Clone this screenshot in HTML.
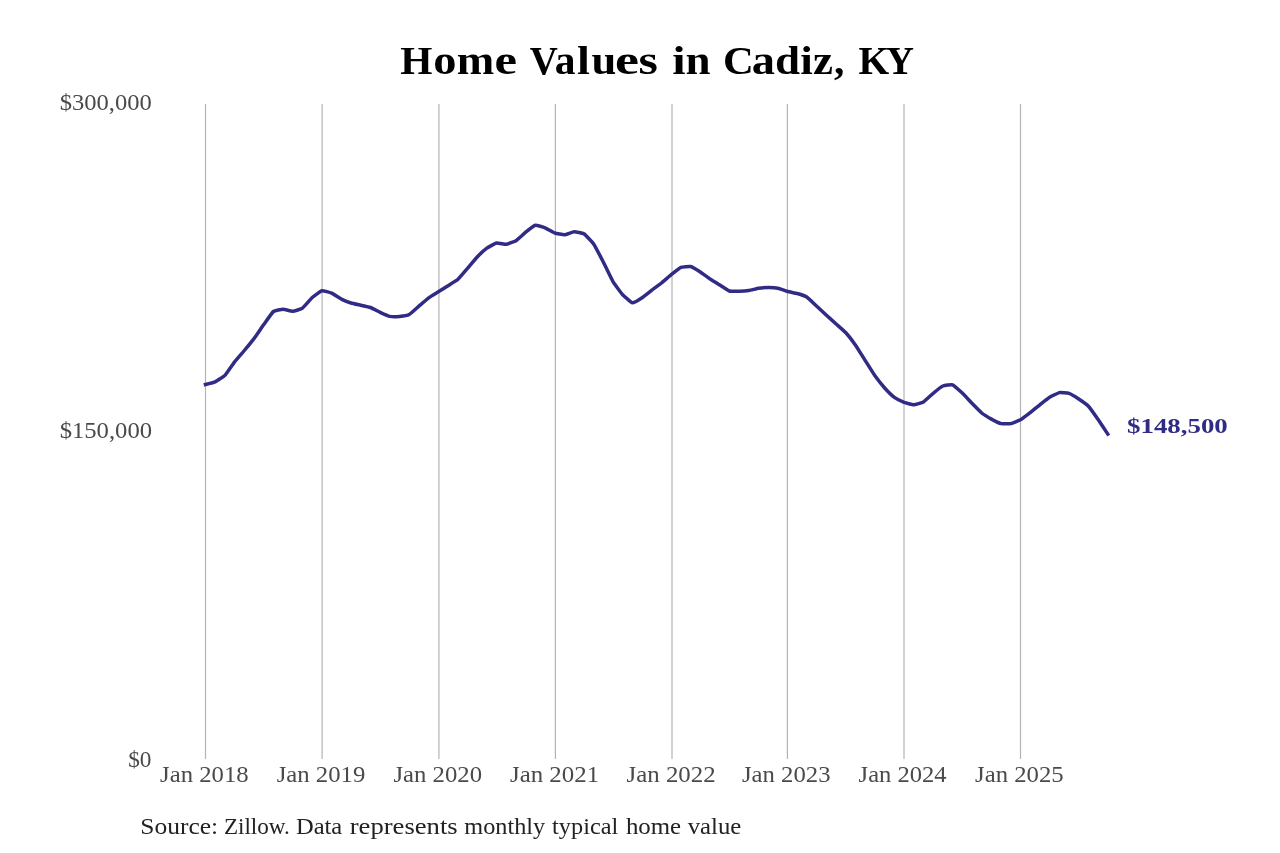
<!DOCTYPE html>
<html><head><meta charset="utf-8"><style>
html,body{margin:0;padding:0;background:#fff;}
body{width:1280px;height:853px;overflow:hidden;}
svg{display:block;will-change:transform;}
text{font-family:"Liberation Serif",serif;}
</style></head><body>
<svg width="1280" height="853" viewBox="0 0 1280 853">
<rect width="1280" height="853" fill="#fff"/>
<g stroke="#b4b4b4" stroke-width="1.2">
<line x1="205.5" y1="104" x2="205.5" y2="759"/>
<line x1="322.1" y1="104" x2="322.1" y2="759"/>
<line x1="438.9" y1="104" x2="438.9" y2="759"/>
<line x1="555.4" y1="104" x2="555.4" y2="759"/>
<line x1="672.0" y1="104" x2="672.0" y2="759"/>
<line x1="787.4" y1="104" x2="787.4" y2="759"/>
<line x1="904.0" y1="104" x2="904.0" y2="759"/>
<line x1="1020.5" y1="104" x2="1020.5" y2="759"/>
</g>
<text transform="translate(400.35 73.60) scale(1.0544 1)" font-size="39.20" font-weight="bold" fill="#000">H</text>
<text transform="translate(433.15 73.60) scale(1.1837 1)" font-size="39.20" font-weight="bold" fill="#000">o</text>
<text transform="translate(456.70 73.60) scale(1.1491 1)" font-size="39.20" font-weight="bold" fill="#000">m</text>
<text transform="translate(494.42 73.60) scale(1.2931 1)" font-size="39.20" font-weight="bold" fill="#000">e</text>
<text transform="translate(529.70 73.60) scale(0.9902 1)" font-size="39.20" font-weight="bold" fill="#000">V</text>
<text transform="translate(554.80 73.60) scale(1.0612 1)" font-size="39.20" font-weight="bold" fill="#000">a</text>
<text transform="translate(576.98 73.60) scale(1.1837 1)" font-size="39.20" font-weight="bold" fill="#000">l</text>
<text transform="translate(591.40 73.60) scale(1.1381 1)" font-size="39.20" font-weight="bold" fill="#000">u</text>
<text transform="translate(615.01 73.60) scale(1.3780 1)" font-size="39.20" font-weight="bold" fill="#000">e</text>
<text transform="translate(638.62 73.60) scale(1.2706 1)" font-size="39.20" font-weight="bold" fill="#000">s</text>
<text transform="translate(672.15 73.60) scale(1.2245 1)" font-size="39.20" font-weight="bold" fill="#000">i</text>
<text transform="translate(685.60 73.60) scale(1.1477 1)" font-size="39.20" font-weight="bold" fill="#000">n</text>
<text transform="translate(723.00 73.60) scale(1.0884 1)" font-size="39.20" font-weight="bold" fill="#000">C</text>
<text transform="translate(751.65 73.60) scale(1.1864 1)" font-size="39.20" font-weight="bold" fill="#000">a</text>
<text transform="translate(774.89 73.60) scale(1.1478 1)" font-size="39.20" font-weight="bold" fill="#000">d</text>
<text transform="translate(800.19 73.60) scale(1.1531 1)" font-size="39.20" font-weight="bold" fill="#000">i</text>
<text transform="translate(812.90 73.60) scale(1.1491 1)" font-size="39.20" font-weight="bold" fill="#000">z</text>
<text transform="translate(834.00 73.60) scale(1.0612 1)" font-size="39.20" font-weight="bold" fill="#000">,</text>
<text transform="translate(858.58 73.60) scale(1.0062 1)" font-size="39.20" font-weight="bold" fill="#000">K</text>
<text transform="translate(885.90 73.60) scale(0.9870 1)" font-size="39.20" font-weight="bold" fill="#000">Y</text>
<text transform="translate(59.74 110.40) scale(1.0639 1)" font-size="23.10" fill="#4a4a4a">$300,000</text>
<text transform="translate(59.64 437.50) scale(1.0675 1)" font-size="23.10" fill="#4a4a4a">$150,000</text>
<text transform="translate(128.19 767.40) scale(1.0070 1)" font-size="23.10" fill="#4a4a4a">$0</text>
<text transform="translate(160.07 781.70) scale(1.0709 1)" font-size="23.10" fill="#4a4a4a">Jan 2018</text>
<text transform="translate(276.67 781.70) scale(1.0709 1)" font-size="23.10" fill="#4a4a4a">Jan 2019</text>
<text transform="translate(393.47 781.70) scale(1.0709 1)" font-size="23.10" fill="#4a4a4a">Jan 2020</text>
<text transform="translate(509.97 781.70) scale(1.0775 1)" font-size="23.10" fill="#4a4a4a">Jan 2021</text>
<text transform="translate(626.57 781.70) scale(1.0762 1)" font-size="23.10" fill="#4a4a4a">Jan 2022</text>
<text transform="translate(741.97 781.70) scale(1.0709 1)" font-size="23.10" fill="#4a4a4a">Jan 2023</text>
<text transform="translate(858.57 781.70) scale(1.0644 1)" font-size="23.10" fill="#4a4a4a">Jan 2024</text>
<text transform="translate(975.07 781.70) scale(1.0709 1)" font-size="23.10" fill="#4a4a4a">Jan 2025</text>
<text transform="translate(1127.04 432.70) scale(1.2271 1)" font-size="21.90" font-weight="bold" fill="#302b85">$148,500</text>
<text transform="translate(140.23 833.90) scale(1.1141 1)" font-size="22.90" fill="#222">Source:</text>
<text transform="translate(223.89 833.90) scale(1.0099 1)" font-size="22.90" fill="#222">Zillow.</text>
<text transform="translate(295.96 833.90) scale(1.0717 1)" font-size="22.90" fill="#222">Data</text>
<text transform="translate(349.73 833.90) scale(1.1635 1)" font-size="22.90" fill="#222">represents</text>
<text transform="translate(464.28 833.90) scale(1.0595 1)" font-size="22.90" fill="#222">monthly</text>
<text transform="translate(552.09 833.90) scale(1.0623 1)" font-size="22.90" fill="#222">typical</text>
<text transform="translate(625.88 833.90) scale(1.0859 1)" font-size="22.90" fill="#222">home</text>
<text transform="translate(687.70 833.90) scale(1.0814 1)" font-size="22.90" fill="#222">value</text>
<path d="M205.50,384.50 C206.07,384.34 214.07,382.33 215.20,381.80 C216.33,381.27 223.77,376.57 224.90,375.40 C226.04,374.23 233.48,363.25 234.61,361.80 C235.74,360.35 243.18,351.85 244.31,350.50 C245.44,349.15 252.88,340.11 254.01,338.60 C255.14,337.09 262.58,326.18 263.71,324.60 C264.85,323.02 272.28,312.39 273.42,311.50 C274.55,310.61 281.99,309.31 283.12,309.30 C284.25,309.29 291.69,311.37 292.82,311.30 C293.95,311.23 301.39,308.91 302.52,308.10 C303.66,307.30 311.09,298.51 312.23,297.50 C313.36,296.49 320.80,290.95 321.93,290.70 C323.06,290.45 330.50,292.71 331.63,293.20 C332.76,293.69 340.20,298.53 341.33,299.10 C342.47,299.67 349.90,302.64 351.04,303.00 C352.17,303.36 359.61,304.94 360.74,305.20 C361.87,305.46 369.31,307.09 370.44,307.50 C371.57,307.91 379.01,311.78 380.14,312.30 C381.27,312.82 388.71,316.16 389.85,316.40 C390.98,316.64 398.42,316.51 399.55,316.40 C400.68,316.29 408.12,315.10 409.25,314.50 C410.38,313.90 417.82,307.07 418.95,306.10 C420.08,305.13 427.52,298.63 428.65,297.80 C429.79,296.97 437.23,292.51 438.36,291.80 C439.49,291.09 446.93,286.42 448.06,285.70 C449.19,284.98 456.63,280.51 457.76,279.50 C458.89,278.49 466.33,269.71 467.46,268.40 C468.60,267.09 476.03,258.18 477.17,257.00 C478.30,255.82 485.74,249.02 486.87,248.20 C488.00,247.38 495.44,243.23 496.57,243.00 C497.70,242.77 505.14,244.43 506.27,244.30 C507.41,244.17 514.84,241.41 515.98,240.70 C517.11,239.99 524.55,233.10 525.68,232.20 C526.81,231.30 534.25,225.56 535.38,225.30 C536.51,225.04 543.95,227.35 545.08,227.80 C546.22,228.25 553.65,232.59 554.79,233.00 C555.92,233.41 563.36,234.87 564.49,234.80 C565.62,234.73 573.06,231.86 574.19,231.80 C575.32,231.74 582.76,233.09 583.89,233.80 C585.02,234.51 592.46,242.35 593.60,244.00 C594.73,245.65 602.17,259.81 603.30,262.00 C604.43,264.19 611.87,279.69 613.00,281.60 C614.13,283.51 621.57,293.56 622.70,294.80 C623.83,296.04 631.27,302.63 632.40,302.80 C633.54,302.97 640.98,298.44 642.11,297.70 C643.24,296.96 650.68,290.96 651.81,290.10 C652.94,289.24 660.38,283.90 661.51,283.00 C662.64,282.10 670.08,275.61 671.21,274.70 C672.35,273.79 679.78,267.88 680.92,267.40 C682.05,266.92 689.49,266.23 690.62,266.50 C691.75,266.77 699.19,271.27 700.32,272.00 C701.45,272.73 708.89,278.24 710.02,279.00 C711.16,279.76 718.59,284.30 719.73,285.00 C720.86,285.70 728.30,290.63 729.43,291.00 C730.56,291.37 738.00,291.32 739.13,291.30 C740.26,291.28 747.70,290.78 748.83,290.60 C749.97,290.43 757.40,288.48 758.54,288.30 C759.67,288.12 767.11,287.51 768.24,287.50 C769.37,287.49 776.81,287.97 777.94,288.20 C779.07,288.43 786.51,291.19 787.64,291.50 C788.77,291.81 796.21,293.17 797.35,293.50 C798.48,293.83 805.92,296.46 807.05,297.20 C808.18,297.94 815.62,305.15 816.75,306.20 C817.88,307.25 825.32,314.16 826.45,315.20 C827.58,316.24 835.02,322.97 836.15,324.00 C837.29,325.03 844.73,331.56 845.86,332.80 C846.99,334.04 854.43,343.58 855.56,345.20 C856.69,346.82 864.13,358.81 865.26,360.60 C866.39,362.39 873.83,374.20 874.96,375.80 C876.10,377.40 883.53,386.74 884.67,388.00 C885.80,389.26 893.24,396.57 894.37,397.40 C895.50,398.23 902.94,401.87 904.07,402.30 C905.20,402.73 912.64,404.82 913.77,404.80 C914.91,404.78 922.34,402.67 923.48,402.00 C924.61,401.33 932.05,394.23 933.18,393.30 C934.31,392.37 941.75,386.50 942.88,386.00 C944.01,385.50 951.45,384.39 952.58,384.80 C953.72,385.21 961.15,392.02 962.29,393.10 C963.42,394.18 970.86,402.14 971.99,403.30 C973.12,404.46 980.56,412.08 981.69,413.00 C982.82,413.92 990.26,418.48 991.39,419.10 C992.52,419.72 999.96,423.34 1001.10,423.60 C1002.23,423.86 1009.67,423.83 1010.80,423.60 C1011.93,423.37 1019.37,420.34 1020.50,419.70 C1021.63,419.06 1029.07,413.47 1030.20,412.60 C1031.33,411.73 1038.77,405.69 1039.90,404.80 C1041.04,403.91 1048.48,398.01 1049.61,397.30 C1050.74,396.59 1058.18,392.83 1059.31,392.60 C1060.44,392.37 1067.88,393.03 1069.01,393.40 C1070.14,393.77 1077.58,398.25 1078.71,399.00 C1079.85,399.75 1087.28,405.00 1088.42,406.20 C1089.55,407.40 1096.99,417.87 1098.12,419.50 C1099.25,421.13 1107.26,433.25 1107.82,434.10" fill="none" stroke="#302b85" stroke-width="3.5" stroke-linejoin="round" stroke-linecap="square"/>
</svg>
</body></html>
